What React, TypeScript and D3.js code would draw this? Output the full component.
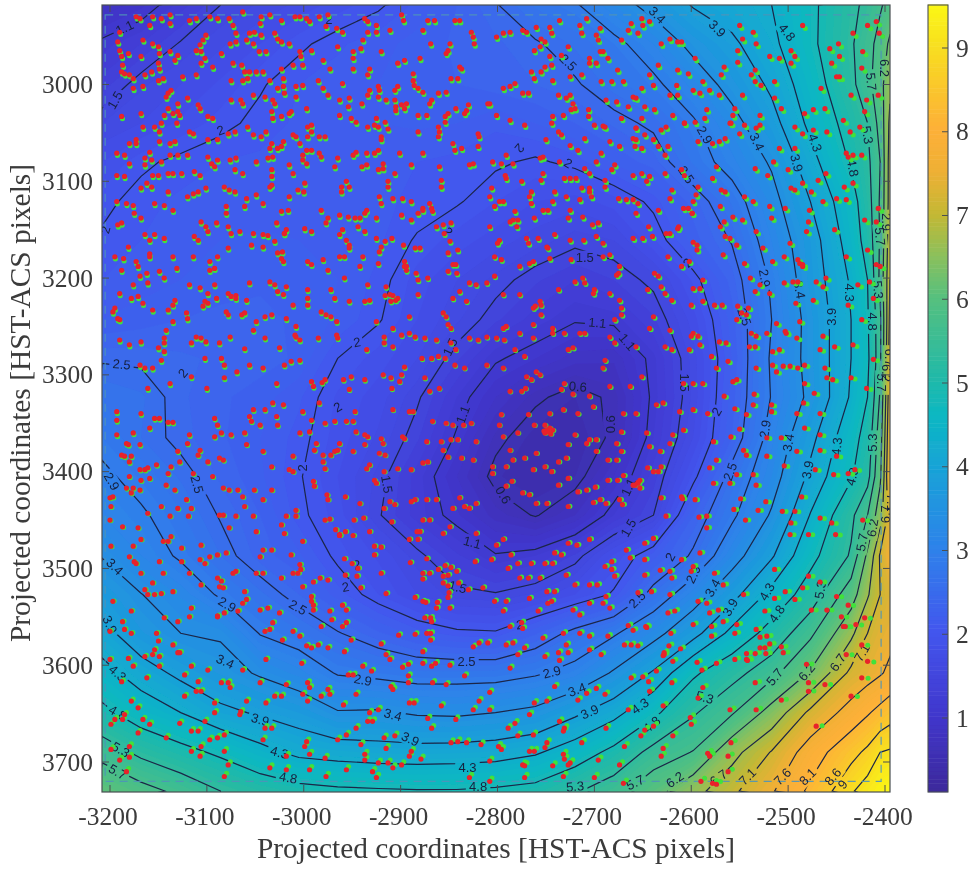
import React from "react";
import * as d3 from "d3";

const gridX = [-3208,-3168,-3127,-3086,-3045,-3005,-2965,-2923,-2883,-2842,-2802,-2761,-2720,-2680,-2639,-2598,-2558,-2517,-2477,-2435,-2418,-2405,-2395];
const gridY = [2918,2958,3000,3040,3080,3121,3161,3202,3243,3283,3323,3365,3405,3445,3487,3527,3567,3608,3649,3690,3730];
const surfaceRows = [
[0.8,0.97,1.25,1.5,1.62,1.73,1.85,1.97,2.13,2.3,2.48,2.72,2.86,3.2,3.55,3.93,4.1,4.3,4.7,5.2,5.4,5.65,5.85],
[1.15,1.3,1.52,1.68,1.8,1.96,2.08,2.16,2.24,2.32,2.38,2.47,2.62,2.8,3.1,3.52,3.82,4.2,4.7,5.25,5.55,5.85,6.3],
[1.35,1.58,1.7,1.82,1.98,2.1,2.15,2.2,2.25,2.3,2.35,2.4,2.47,2.65,2.82,3.15,3.55,3.98,4.55,5.2,5.55,6.0,6.6],
[1.6,1.7,1.82,1.95,2.05,2.12,2.17,2.2,2.22,2.2,2.12,2.2,2.3,2.42,2.55,2.85,3.25,3.75,4.4,5.0,5.3,5.85,6.8],
[1.8,1.96,2.05,2.1,2.12,2.14,2.14,2.12,2.1,2.07,2.03,1.97,2.05,2.22,2.35,2.72,3.05,3.45,4.15,4.85,5.2,5.7,6.9],
[1.95,2.07,2.12,2.15,2.15,2.15,2.14,2.12,2.08,2.02,1.9,1.8,1.75,1.85,2.05,2.35,2.72,3.25,3.9,4.6,5.1,5.75,6.9],
[2.03,2.1,2.16,2.2,2.22,2.2,2.18,2.12,1.98,1.85,1.75,1.65,1.55,1.6,1.88,2.25,2.52,3.1,3.7,4.5,5.0,5.75,7.0],
[2.1,2.15,2.2,2.25,2.28,2.25,2.2,2.07,1.85,1.7,1.57,1.42,1.3,1.4,1.55,1.92,2.35,2.95,3.65,4.35,4.8,5.8,7.1],
[2.2,2.25,2.3,2.33,2.33,2.28,2.18,2.02,1.8,1.62,1.42,1.25,1.12,1.15,1.38,1.75,2.25,2.9,3.55,4.3,4.75,5.6,7.2],
[2.47,2.46,2.42,2.38,2.35,2.28,2.0,1.85,1.7,1.42,1.13,1.0,0.85,0.82,1.17,1.65,2.2,2.95,3.55,4.3,4.7,5.6,7.3],
[2.7,2.62,2.42,2.32,2.25,2.12,1.88,1.75,1.53,1.2,0.9,0.65,0.5,0.65,1.15,1.63,2.25,2.92,3.5,4.35,4.8,5.75,7.4],
[2.8,2.6,2.44,2.32,2.2,2.06,1.85,1.68,1.42,1.07,0.67,0.45,0.42,0.65,1.2,1.7,2.3,3.05,3.78,4.6,5.0,5.95,7.5],
[2.97,2.78,2.58,2.38,2.22,2.02,1.8,1.57,1.25,0.9,0.52,0.4,0.5,0.9,1.35,1.93,2.62,3.2,4.0,4.75,5.15,6.1,7.6],
[3.1,2.95,2.72,2.48,2.3,2.05,1.85,1.52,1.25,1.02,0.75,0.58,0.8,1.2,1.5,2.3,2.82,3.45,4.32,5.2,5.7,6.5,7.3],
[3.38,3.1,2.85,2.6,2.35,2.22,1.95,1.78,1.55,1.32,1.12,1.2,1.42,1.82,2.15,2.55,3.2,3.85,4.65,5.35,6.3,7.15,7.6],
[3.7,3.41,3.18,2.85,2.63,2.4,2.15,1.9,1.7,1.55,1.52,1.62,1.8,2.03,2.62,3.17,3.75,4.43,5.05,5.95,6.65,7.1,7.3],
[4.05,3.62,3.4,3.35,2.88,2.72,2.52,2.32,2.15,2.05,2.03,2.28,2.6,2.85,3.25,3.75,4.42,5.0,5.6,6.6,7.1,7.35,7.45],
[4.45,4.1,3.8,3.58,3.35,3.15,2.87,2.8,2.73,2.73,2.74,2.85,3.03,3.45,3.95,4.72,5.15,5.55,6.25,7.2,7.4,7.55,7.7],
[4.92,4.55,4.3,4.0,3.85,3.7,3.43,3.45,3.35,3.33,3.4,3.5,3.82,4.15,4.7,5.25,5.65,6.4,7.2,7.8,8.05,8.25,8.4],
[5.55,5.2,4.95,4.72,4.43,4.2,4.13,4.08,4.06,4.08,4.12,4.25,4.53,4.93,5.45,5.72,6.55,7.13,7.85,8.45,8.7,9.0,9.05],
[6.1,5.85,5.6,5.3,5.1,4.95,4.88,4.85,4.83,4.83,4.87,4.95,5.25,5.55,6.0,6.55,7.0,7.55,8.2,8.95,9.2,9.4,9.5],
];
const contourLevels = [0.6,1.1,1.5,2,2.5,2.9,3.4,3.9,4.3,4.8,5.3,5.7,6.2,6.7,7.1,7.6,8.1,8.6,9];
const colorValues = [0.12,1,2,3,4,4.6,5,6,6.5,7,7.5,8,8.5,9,9.51];
const colorHexes = ["#3c2a9c","#4136cc","#4356ee","#2e82ea","#17a4d6","#0cb8c2","#20b9aa","#56c07e","#8cc05c","#c4b834","#eeb035","#fdb038","#fac62c","#f8df20","#fbf816"];
const xTicks = [-3200,-3100,-3000,-2900,-2800,-2700,-2600,-2500,-2400];
const yTicks = [3000,3100,3200,3300,3400,3500,3600,3700];
const barTicks = [1,2,3,4,5,6,7,8,9];
const dashedBox = [-3205,2928,-2404,3720];
const shiftX = [-3200,-3000,-2800,-2600,-2400];
const shiftY = [2920,3120,3320,3520,3730];
const shiftDx = [[1,1,1,1.5,3],[.5,.5,1,1.5,3],[.5,.5,.5,1.5,4],[1,1.5,1.5,2.5,5],[2,2,2,3,7]];
const shiftDy = [[2,2,2,2.5,3],[2,2,2,2,2.5],[2,1.5,.5,1,1],[0,-.5,-1,-1,.5],[-3,-3,-3,-3,1]];
const labelData: [string,number,number,number][] = [
["1.1",-3185,2941,-25],["1.5",-3195,3016,-60],["2",-3205,3150,-75],["2",-3086,3047,-20],["2",-2974,2933,0],["2.5",-3188,3289,5],["2",-3125,3298,-50],["2",-2945,3266,-10],["1.5",-2849,3271,-65],["2",-2851,3152,50],
["2.5",-2727,2977,45],["3.4",-2635,2928,45],["3.9",-2573,2942,45],["4.8",-2501,2946,50],["6.2",-2400,2983,90],["5.7",-2414,2997,85],["5.3",-2418,3052,80],
["2.9",-2586,3052,60],["3.4",-2532,3059,65],["4.3",-2472,3060,70],["3.9",-2491,3081,75],["4.8",-2433,3086,80],["2",-2777,3066,130],["2",-2727,3081,30],["2.5",-2605,3093,55],["2",-2604,3184,-45],
["2.9",-2524,3200,80],["3.4",-2488,3212,80],["3.9",-2455,3240,-90],["4.3",-2436,3215,90],["4.8",-2413,3245,90],["1.5",-2710,3179,0],["1.1",-2697,3246,5],["1.1",-2666,3266,50],["0.6",-2717,3312,5],["1.5",-2607,3308,90],["2.5",-2545,3240,70],
["2.9",-2398,3142,90],["5.7",-2405,3157,85],["5.3",-2407,3212,85],["6.7",-2395,3282,90],["6.2",-2398,3298,90],["5.7",-2403,3308,90],
["2",-2965,3333,-30],["1.1",-2836,3341,-70],["2",-3002,3396,-90],["1.5",-2914,3413,80],["2.9",-3198,3410,60],["2.5",-3110,3413,75],["1.1",-2826,3473,15],["2",-2945,3496,-15],["1.5",-2841,3519,15],["2",-2957,3519,-10],
["3.4",-3195,3498,45],["2.9",-3079,3537,30],["2.5",-3006,3540,30],["3.9",-3200,3558,65],["3.4",-3081,3596,25],["2.5",-2832,3596,0],["4.3",-3192,3608,40],["2.9",-2939,3615,10],["3.4",-2908,3651,15],["4.8",-3192,3649,30],["3.9",-3045,3656,15],["3.9",-2890,3676,25],
["4.3",-3025,3690,15],["5.3",-3189,3687,30],["4.3",-2831,3705,0],["5.7",-3192,3710,30],["4.8",-3016,3716,10],["4.8",-2820,3725,0],
["0.6",-2684,3351,-90],["0.6",-2794,3424,60],["2",-2574,3338,-60],["2.9",-2524,3356,-80],["3.4",-2500,3370,-80],["3.9",-2480,3398,-80],["4.3",-2450,3374,-85],["5.3",-2413,3370,-90],["2.5",-2560,3400,-70],["4.8",-2434,3405,-75],["1.1",-2665,3416,-65],["1.5",-2665,3458,-60],
["7.1",-2393,3432,90],["6.7",-2400,3444,-90],["6.2",-2413,3458,-80],["5.7",-2424,3473,-80],["2",-2622,3488,-60],["2.9",-2598,3506,-65],["3.4",-2578,3520,-60],["4.3",-2522,3524,-60],["5.3",-2467,3522,-80],["2.5",-2656,3532,-45],["3.9",-2560,3540,-60],["4.8",-2512,3547,-55],
["2",-2777,3558,-5],["2.9",-2744,3607,-15],["7.1",-2424,3587,-60],["6.7",-2449,3597,-55],["6.2",-2481,3607,-50],["5.7",-2514,3612,-50],["3.4",-2718,3625,-20],["5.3",-2586,3633,15],["3.9",-2705,3648,-25],["4.3",-2653,3642,-35],["4.8",-2641,3661,-40],
["5.3",-2720,3725,-5],["5.7",-2658,3721,-25],["6.2",-2617,3718,-35],["6.7",-2572,3716,-35],["7.1",-2542,3715,-45],["7.6",-2506,3715,-45],["8.1",-2480,3715,-45],["8.6",-2454,3715,-50],["9",-2444,3723,-50],
];
const redNW: [number,number][] = [
[-3173,2930],[-3169,2932],[-3156,2930],[-3147,2932],[-3138,2928],[-3138,2937],[-3159,2939],[-3190,2946],[-3118,2934],[-3111,2932],[-3097,2930],[-3089,2932],[-3077,2932],[-3073,2939],[-3063,2925],[-3044,2930],[-3035,2928],[-3045,2937],[-3023,2934],[-3009,2930],[-3004,2930],[-2997,2932],[-2994,2935],[-2984,2930],[-2975,2928],[-2977,2940],[-2966,2942],[-2960,2946],[-2937,2932],[-2934,2935],[-2925,2939],[-2925,2946],[-2934,2946],[-2911,2944],[-2899,2928],[-2897,2934],[-2872,2934],[-2865,2934],[-2877,2944],[-2844,2934],[-2839,2934],[-2827,2946],[-2825,2951],[-2824,2958],
[-3192,2956],[-3166,2954],[-3156,2958],[-3150,2961],[-3149,2968],[-3190,2965],[-3181,2968],[-3188,2971],[-3168,2971],[-3138,2966],[-3130,2970],[-3133,2975],[-3111,2965],[-3106,2966],[-3101,2949],[-3104,2954],[-3107,2959],[-3085,2968],[-3070,2947],[-3070,2956],[-3076,2958],[-3056,2947],[-3051,2946],[-3059,2954],[-3052,2958],[-3044,2949],[-3030,2947],[-3027,2953],[-3023,2956],[-3015,2958],[-3046,2966],[-3039,2966],[-3004,2966],[-3003,2971],[-2992,2965],[-2980,2975],[-2965,2961],[-2939,2954],[-2949,2966],[-2941,2963],[-2949,2973],[-2920,2966],[-2849,2958],[-2851,2965],[-2853,2968],
[-3187,2980],[-3188,2987],[-3185,2989],[-3180,2990],[-3176,2994],[-3164,2990],[-3157,2987],[-3150,2978],[-3149,2984],[-3150,2996],[-3145,2994],[-3125,2992],[-3111,2990],[-3106,2978],[-3094,2982],[-3102,2973],[-3073,2978],[-3064,2980],[-3061,2987],[-3056,2987],[-3049,2987],[-3042,2987],[-3058,2994],[-3075,2996],[-3063,2996],[-3035,2996],[-3023,2984],[-3021,2994],[-3011,2980],[-3001,2980],[-2985,2996],[-2973,2984],[-2949,2984],[-2932,2984],[-2934,2990],[-2903,2978],[-2896,2975],[-2880,2973],[-2869,2958],[-2839,2982],[-2837,2984],[-2887,2989],[-2848,2994],[-2841,2994],[-2887,2996],
[-3176,3004],[-3166,3002],[-3140,3009],[-3137,3006],[-3142,3013],[-3120,3014],[-3130,3020],[-3109,3021],[-3075,3016],[-3065,3016],[-3063,3020],[-3052,3011],[-3040,3013],[-3032,3016],[-3030,3020],[-3027,3004],[-3021,3002],[-3020,3009],[-3008,3002],[-3008,3013],[-3001,3001],[-2997,3025],[-2980,3004],[-2975,3011],[-2960,2999],[-2963,3016],[-2953,3014],[-2954,3023],[-2940,3020],[-2932,3006],[-2934,3011],[-2923,3002],[-2922,3006],[-2923,3013],[-2915,3016],[-2903,3002],[-2906,3006],[-2906,3016],[-2886,3001],[-2882,3004],[-2877,3008],[-2861,3009],[-2853,3008],[-2868,3016],[-2870,3020],[-2899,3021],[-2894,3020],[-2905,3023],[-2810,3020],[-2830,3021],
[-3188,3033],[-3168,3030],[-3140,3025],[-3144,3032],[-3130,3028],[-3128,3032],[-3135,3030],[-3107,3025],[-3099,3033],[-3094,3035],[-3166,3044],[-3147,3040],[-3154,3044],[-3149,3049],[-3131,3040],[-3118,3049],[-3114,3051],[-3058,3044],[-3033,3028],[-3032,3035],[-3023,3033],[-3015,3030],[-3013,3028],[-2996,3044],[-2992,3042],[-2992,3049],[-2963,3032],[-2951,3035],[-2946,3039],[-2934,3044],[-2925,3035],[-2927,3042],[-2923,3044],[-2913,3046],[-2916,3039],[-2905,3027],[-2896,3025],[-2882,3032],[-2873,3032],[-2851,3030],[-2854,3033],[-2843,3025],[-2832,3027],[-2834,3030],[-2854,3039],[-2861,3044],[-2860,3049],[-2861,3054],[-2882,3049],
[-3180,3061],[-3173,3057],[-3173,3061],[-3149,3059],[-3138,3061],[-3133,3059],[-3159,3070],[-3193,3071],[-3185,3073],[-3099,3057],[-3089,3057],[-3078,3051],[-3071,3049],[-3052,3052],[-3044,3054],[-3039,3049],[-3033,3061],[-3035,3066],[-3021,3059],[-3023,3064],[-3027,3066],[-3011,3052],[-3004,3061],[-3008,3054],[-2996,3054],[-2984,3054],[-2978,3054],[-3001,3073],[-2997,3068],[-2992,3068],[-2984,3071],[-2982,3075],[-2946,3070],[-2949,3073],[-2935,3071],[-2927,3071],[-2923,3068],[-2920,3054],[-2920,3057],[-2846,3061],[-2844,3068],[-2837,3066],[-2820,3051],[-2819,3054],[-2877,3071],[-2820,3064],[-2901,3071],
[-3180,3082],[-3164,3076],[-3164,3083],[-3157,3078],[-3147,3080],[-3138,3073],[-3130,3073],[-3120,3073],[-3156,3094],[-3150,3094],[-3140,3092],[-3135,3092],[-3126,3092],[-3193,3094],[-3185,3095],[-3113,3090],[-3107,3094],[-3099,3075],[-3095,3082],[-3089,3078],[-3092,3085],[-3076,3078],[-3070,3076],[-3071,3088],[-3063,3092],[-3049,3080],[-3037,3076],[-3032,3075],[-3033,3088],[-3033,3095],[-3015,3083],[-3011,3092],[-3001,3078],[-2997,3082],[-2965,3076],[-2968,3085],[-2940,3085],[-2935,3083],[-2923,3088],[-2918,3082],[-2918,3087],[-2906,3092],[-2889,3083],[-2860,3085],[-2829,3083],[-2825,3082],
[-3162,3102],[-3157,3106],[-3168,3107],[-3140,3111],[-3193,3121],[-3183,3123],[-3176,3125],[-3154,3123],[-3144,3125],[-3120,3116],[-3114,3113],[-3109,3111],[-3101,3107],[-3082,3106],[-3077,3109],[-3071,3111],[-3059,3118],[-3049,3114],[-3042,3123],[-3033,3104],[-3035,3106],[-3015,3116],[-3006,3109],[-2999,3102],[-3000,3111],[-2956,3100],[-2961,3106],[-2961,3111],[-2953,3106],[-2913,3100],[-2913,3106],[-2922,3116],[-2920,3123],[-2908,3118],[-2898,3118],[-2889,3121],[-2858,3099],[-2858,3106],[-2870,3123],[-2877,3128],
[-3175,3133],[-3168,3138],[-3192,3145],[-3188,3143],[-3135,3130],[-3080,3126],[-3080,3133],[-3106,3142],[-3101,3147],[-3099,3152],[-3090,3143],[-3078,3147],[-3075,3154],[-3066,3152],[-3052,3154],[-3061,3126],[-3028,3143],[-3018,3150],[-3020,3154],[-3016,3130],[-3023,3131],[-2982,3130],[-2975,3138],[-2977,3143],[-2963,3135],[-2954,3137],[-2947,3138],[-2942,3138],[-2935,3130],[-2937,3133],[-2960,3150],[-2944,3147],[-2937,3152],[-2889,3140],[-2882,3133],[-2877,3130],[-2868,3128],[-2863,3147],[-2856,3145],[-2848,3143],[-2855,3154],[-2867,3131],[-2925,3138],[-2899,3135],
[-3164,3155],[-3159,3161],[-3154,3155],[-3144,3159],[-3113,3157],[-3109,3161],[-3078,3169],[-3054,3166],[-3042,3155],[-3037,3156],[-3042,3168],[-3030,3162],[-3022,3173],[-3020,3154],[-2999,3149],[-2992,3152],[-2963,3155],[-2956,3161],[-2953,3166],[-2953,3169],[-2925,3159],[-2916,3162],[-2920,3168],[-2922,3173],[-2909,3159],[-2897,3166],[-2885,3169],[-2849,3162],[-2841,3171],[-2851,3174],[-2880,3169],[-3181,3168],[-3195,3178],[-3186,3180],[-3159,3175],[-3159,3178],[-3173,3183],[-3171,3188],[-3135,3178],[-3114,3178],[-3097,3183],[-3089,3178],[-3097,3192],[-3092,3190],[-3027,3174],[-3023,3180],[-3021,3183],[-2996,3183],[-2992,3186],[-2980,3181],[-2963,3178],[-2958,3178],[-2939,3178],[-2923,3185],[-2896,3183],[-2894,3188],[-2846,3186],[-2843,3186],
[-3188,3192],[-3162,3195],[-3149,3193],[-3176,3207],[-3169,3198],[-3161,3205],[-3144,3200],[-3131,3190],[-3118,3207],[-3107,3210],[-3092,3207],[-3099,3216],[-3102,3224],[-3090,3221],[-3070,3218],[-3075,3219],[-3078,3216],[-3070,3221],[-3056,3205],[-3035,3204],[-3030,3207],[-3027,3214],[-3018,3209],[-3021,3217],[-2996,3212],[-2996,3221],[-2972,3212],[-2968,3221],[-2975,3192],[-2942,3188],[-2934,3207],[-2915,3209],[-2911,3217],[-2882,3217],[-2958,3200],[-2884,3195],[-2882,3202],[-2872,3200],[-2851,3193],[-2842,3195],[-2839,3214],[-2829,3205],[-2822,3207],[-2811,3205],[-2846,3221],[-2832,3224],[-2896,3188],[-2894,3192],[-2910,3224],[-3190,3216],[-3178,3221],[-3171,3219],
[-3197,3235],[-3192,3242],[-3195,3231],[-3190,3243],[-3166,3226],[-3156,3233],[-3140,3233],[-3135,3228],[-3133,3223],[-3121,3236],[-3120,3242],[-3104,3229],[-3099,3226],[-3080,3235],[-3078,3238],[-3059,3223],[-3061,3236],[-3064,3238],[-3049,3245],[-3052,3254],[-3040,3240],[-3033,3238],[-3018,3242],[-3008,3250],[-2996,3228],[-3011,3228],[-2982,3235],[-2977,3238],[-2972,3240],[-2966,3245],[-2953,3224],[-2937,3224],[-2932,3223],[-2916,3218],[-2925,3245],[-2891,3240],[-2908,3252],[-2891,3257],[-2856,3236],[-2853,3240],[-2851,3248],[-2848,3252],[-3135,3245],[-3142,3254],[-3009,3259],
[-3190,3264],[-3180,3269],[-3168,3266],[-3144,3262],[-3144,3267],[-3150,3272],[-3144,3276],[-3111,3261],[-3116,3267],[-3106,3262],[-3101,3266],[-3087,3267],[-3076,3261],[-3061,3273],[-3040,3262],[-3025,3272],[-3008,3261],[-3004,3264],[-2985,3262],[-2966,3259],[-2965,3262],[-2935,3274],[-2917,3261],[-2917,3267],[-2908,3271],[-2899,3259],[-2885,3261],[-2875,3262],[-2863,3264],[-2848,3267],[-2843,3274],[-2829,3262],[-2820,3264],[-2811,3261],[-3169,3290],[-3156,3293],[-3164,3293],[-3161,3314],[-3147,3285],[-3138,3309],[-3116,3302],[-3102,3283],[-3100,3314],[-3085,3283],[-3082,3290],[-3069,3297],[-3082,3303],[-3056,3290],[-3042,3293],[-3020,3290],[-3013,3286],[-3004,3285],[-3028,3309],[-2992,3307],[-2990,3312],[-2959,3305],[-2951,3302],[-2937,3305],[-2953,3315],[-2918,3300],[-2899,3300],[-2901,3307],[-2868,3283],[-2861,3281],[-2854,3283],[-2844,3290],[-2834,3293],[-2875,3303],[-2870,3317],[-2860,3314],[-2811,3290],[-2878,3283],[-2896,3292],[-2909,3314],[-2910,3303],
];
const redNE: [number,number][] = [
[-2736,2934],[-2760,2941],[-2774,2944],[-2770,2946],[-2746,2941],[-2744,2947],[-2715,2939],[-2708,2932],[-2713,2947],[-2694,2942],[-2698,2949],[-2696,2954],[-2787,2946],[-2794,2947],[-2801,2951],[-2755,2953],[-2751,2956],[-2756,2961],[-2762,2965],[-2691,2966],[-2686,2973],[-2694,2966],[-2705,2973],[-2698,2978],[-2705,2978],[-2734,2970],[-2727,2961],[-2746,2971],[-2676,2985],[-2751,2982],[-2744,2980],[-2755,2987],[-2765,2987],[-2762,2994],[-2743,2996],[-2725,2992],[-2713,2990],[-2693,2997],[-2682,2997],[-2670,2997],[-2662,2937],[-2651,2932],[-2650,2939],[-2643,2935],[-2665,2944],[-2655,2947],[-2672,2954],[-2631,2958],[-2622,2953],[-2614,2956],[-2610,2956],[-2596,2973],[-2634,2980],[-2614,2985],[-2603,2989],[-2643,2990],[-2639,3001],[-2651,3004],
[-2782,2999],[-2787,3002],[-2794,3004],[-2768,3009],[-2774,3009],[-2737,3011],[-2725,3011],[-2729,3014],[-2722,3020],[-2724,3026],[-2720,3025],[-2808,3020],[-2801,3032],[-2787,3037],[-2772,3042],[-2706,3026],[-2706,3033],[-2700,3042],[-2743,3033],[-2744,3040],[-2732,3032],[-2689,3044],[-2691,3043],[-2672,3035],[-2688,3016],[-2677,3018],[-2660,3013],[-2657,3014],[-2665,3023],[-2648,3023],[-2638,3026],[-2651,3035],[-2657,3045],[-2619,3032],[-2607,3040],[-2598,3006],[-2591,3009],[-2581,3006],[-2571,3011],[-2622,3011],[-2614,3011],[-2615,3001],[-2588,2997],[-2566,2982],[-2569,2990],[-2552,2977],[-2552,2965],[-2547,2953],[-2550,2939],[-2536,2946],[-2533,2958],[-2519,2971],[-2509,2973],[-2497,2965],[-2493,2971],[-2497,2978],[-2534,2985],[-2538,2990],[-2534,2997],[-2528,3001],[-2514,2997],[-2514,3014],[-2547,3011],[-2485,2939],[-2457,2963],[-2448,2958],[-2447,2971],[-2455,2978],[-2450,2992],[-2447,2992],[-2466,3004],[-2435,3011],[-2419,3016],[-2407,3011],[-2418,2939],[-2409,2935],[-2406,2947],[-2433,2947],[-2423,2966],[-2424,2983],[-2421,3028],[-2483,3030],[-2474,3026],[-2462,3025],[-2507,3025],[-2493,3044],[-2485,3051],[-2474,3047],[-2460,3049],[-2443,3037],[-2436,3049],[-2426,3044],[-2440,3071],[-2433,3073],[-2424,3073],
[-2555,3025],[-2557,3032],[-2560,3040],[-2559,3040],[-2545,3042],[-2529,3032],[-2529,3042],[-2533,3045],[-2550,3051],[-2565,3056],[-2571,3059],[-2578,3061],[-2593,3059],[-2607,3040],[-2596,3039],[-2584,3026],[-2586,3035],[-2626,3044],[-2631,3047],[-2737,3049],[-2734,3052],[-2750,3057],[-2725,3063],[-2710,3056],[-2693,3071],[-2684,3059],[-2674,3064],[-2657,3045],[-2648,3052],[-2639,3057],[-2634,3064],[-2627,3073],[-2624,3064],[-2660,3056],[-2658,3064],[-2651,3066],[-2657,3057],[-2791,3073],[-2805,3080],[-2796,3082],[-2784,3082],[-2756,3076],[-2753,3075],[-2736,3080],[-2717,3068],[-2698,3080],[-2679,3083],[-2682,3088],[-2710,3087],[-2705,3092],[-2660,3094],[-2651,3092],[-2646,3100],[-2643,3095],[-2627,3092],[-2610,3088],[-2607,3094],[-2574,3085],[-2578,3097],[-2593,3106],[-2569,3109],[-2565,3111],[-2545,3116],[-2534,3087],[-2521,3094],[-2509,3066],[-2515,3080],[-2493,3066],[-2500,3088],[-2485,3102],[-2497,3107],[-2493,3109],[-2476,3111],[-2469,3099],[-2461,3092],[-2450,3118],[-2440,3119],[-2442,3106],[-2433,3102],[-2438,3075],[-2464,3121],
[-2753,3092],[-2755,3099],[-2775,3100],[-2792,3094],[-2791,3097],[-2731,3097],[-2725,3097],[-2719,3097],[-2713,3107],[-2705,3107],[-2689,3099],[-2689,3106],[-2808,3116],[-2798,3121],[-2794,3121],[-2803,3126],[-2806,3107],[-2765,3111],[-2767,3116],[-2765,3123],[-2741,3111],[-2743,3121],[-2729,3116],[-2715,3119],[-2703,3116],[-2705,3111],[-2675,3118],[-2667,3119],[-2660,3119],[-2655,3123],[-2620,3109],[-2622,3118],[-2595,3114],[-2598,3121],[-2603,3128],[-2599,3133],[-2599,3133],[-2608,3128],[-2634,3130],[-2570,3126],[-2753,3130],[-2748,3130],[-2725,3130],[-2727,3138],[-2782,3131],[-2784,3140],[-2779,3140],[-2780,3147],[-2787,3142],[-2762,3138],[-2712,3137],[-2702,3145],[-2696,3143],[-2657,3133],[-2644,3147],[-2613,3147],[-2570,3147],[-2566,3142],[-2557,3137],[-2547,3140],[-2536,3121],[-2519,3126],[-2517,3138],[-2503,3128],[-2478,3130],[-2479,3142],[-2481,3152],[-2452,3150],[-2421,3140],[-2409,3142],[-2407,3128],[-2560,3159],[-2565,3157],[-2553,3166],[-2533,3152],[-2526,3169],[-2498,3164],[-2808,3147],[-2798,3161],[-2800,3164],[-2770,3159],[-2768,3164],[-2758,3159],[-2741,3155],[-2725,3161],[-2711,3161],[-2698,3157],[-2691,3164],[-2660,3159],[-2650,3159],[-2640,3157],[-2626,3154],[-2622,3154],[-2598,3163],[-2594,3166],[-2594,3171],[-2614,3149],[-2567,3176],[-2545,3185],[-2516,3183],[-2504,3178],[-2490,3181],[-2485,3186],[-2440,3178],[-2418,3171],[-2409,3186],[-2405,3188],
[-2803,3178],[-2796,3181],[-2777,3188],[-2767,3185],[-2763,3183],[-2746,3180],[-2748,3169],[-2749,3168],[-2724,3181],[-2691,3178],[-2684,3176],[-2674,3188],[-2624,3178],[-2610,3188],[-2602,3183],[-2803,3198],[-2794,3217],[-2777,3217],[-2761,3229],[-2756,3224],[-2763,3231],[-2755,3238],[-2763,3248],[-2755,3228],[-2737,3212],[-2720,3204],[-2710,3205],[-2712,3200],[-2700,3212],[-2701,3216],[-2677,3197],[-2675,3195],[-2684,3216],[-2674,3223],[-2672,3231],[-2672,3238],[-2679,3243],[-2638,3195],[-2634,3198],[-2631,3209],[-2645,3212],[-2627,3216],[-2620,3223],[-2588,3202],[-2588,3224],[-2591,3211],[-2598,3211],[-2600,3228],[-2576,3228],[-2568,3228],[-2539,3200],[-2529,3207],[-2534,3214],[-2519,3216],[-2552,3229],[-2541,3231],[-2548,3236],[-2553,3243],[-2543,3238],[-2504,3205],[-2495,3204],[-2490,3204],[-2488,3185],[-2485,3188],[-2471,3204],[-2464,3209],[-2461,3200],[-2492,3226],[-2474,3223],[-2428,3207],[-2416,3204],[-2412,3221],[-2438,3228],[-2512,3247],[-2503,3255],[-2502,3257],[-2488,3245],[-2491,3262],[-2464,3260],[-2467,3274],[-2452,3271],[-2433,3269],[-2424,3243],[-2412,3284],[-2538,3257],[-2533,3260],[-2522,3257],[-2540,3271],[-2534,3271],[-2571,3266],[-2564,3267],[-2562,3286],[-2574,3293],[-2579,3281],[-2553,3305],[-2557,3307],[-2533,3293],[-2516,3276],[-2509,3274],[-2516,3290],[-2512,3297],[-2505,3291],[-2498,3291],[-2490,3293],[-2483,3290],[-2483,3309],[-2473,3319],[-2462,3293],[-2460,3303],[-2454,3305],[-2435,3303],[-2419,3314],
[-2791,3250],[-2794,3252],[-2801,3262],[-2777,3257],[-2793,3264],[-2763,3262],[-2743,3252],[-2743,3257],[-2731,3257],[-2715,3257],[-2782,3274],[-2772,3281],[-2727,3274],[-2722,3272],[-2710,3257],[-2684,3261],[-2679,3267],[-2657,3271],[-2643,3252],[-2639,3240],[-2622,3254],[-2627,3271],[-2620,3274],[-2598,3257],[-2593,3260],[-2602,3274],[-2591,3269],[-2600,3260],[-2689,3285],[-2691,3293],[-2760,3297],[-2756,3300],[-2770,3302],[-2765,3305],[-2731,3309],[-2734,3315],[-2722,3320],[-2787,3317],[-2775,3317],[-2771,3314],[-2794,3293],[-2684,3312],[-2663,3312],[-2705,3322],[-2651,3302],[-2608,3309],[-2598,3309],[-2588,3309],[-2566,3322],[-2535,3320],
];
const redSW: [number,number][] = [
[-3193,3338],[-3193,3347],[-3168,3340],[-3154,3345],[-3149,3345],[-3140,3349],[-3135,3349],[-3193,3362],[-3176,3360],[-3159,3355],[-3183,3371],[-3181,3372],[-3169,3372],[-3188,3383],[-3185,3384],[-3178,3384],[-3180,3390],[-3152,3393],[-3169,3398],[-3164,3398],[-3161,3396],[-3180,3405],[-3168,3409],[-3159,3407],[-3137,3395],[-3140,3402],[-3142,3414],[-3176,3417],[-3183,3417],[-3169,3419],[-3178,3422],[-3200,3427],[-3197,3426],[-3199,3436],[-3200,3450],[-3161,3443],[-3147,3436],[-3138,3446],[-3130,3438],[-3119,3446],[-3116,3438],[-3121,3429],[-3133,3419],[-3130,3379],[-3128,3390],[-3118,3362],[-3120,3371],[-3107,3378],[-3109,3383],[-3099,3390],[-3087,3386],[-3083,3388],[-3114,3402],[-3094,3405],[-3092,3345],[-3089,3352],[-3085,3360],[-3092,3364],[-3075,3362],[-3061,3360],[-3059,3372],[-3042,3379],[-3033,3395],[-3015,3398],[-3011,3384],[-3011,3400],[-3056,3343],[-3052,3336],[-3054,3348],[-3040,3336],[-3045,3352],[-3028,3343],[-3027,3352],[-3032,3329],[-3021,3331],[-3001,3338],[-2992,3347],[-3004,3360],[-2994,3359],[-2984,3329],[-2978,3350],[-2968,3348],[-2956,3348],[-2947,3338],[-2946,3359],[-2949,3348],[-2937,3362],[-2934,3364],[-2920,3366],[-2918,3371],[-2922,3381],[-2916,3383],[-2987,3371],[-2989,3378],[-2980,3383],[-2972,3383],[-2965,3378],[-2968,3379],[-2963,3371],[-2949,3379],[-2980,3390],[-2937,3372],[-2932,3393],[-2935,3397],[-2978,3397],[-2990,3410],[-2989,3415],[-2976,3424],[-2975,3429],[-2957,3426],[-2942,3433],[-2917,3400],[-2903,3397],[-2889,3398],[-2873,3369],[-2853,3350],[-2846,3352],[-2835,3352],[-2827,3350],[-2822,3369],[-2841,3367],[-2858,3369],[-2848,3367],[-2851,3385],[-2856,3378],[-2837,3386],[-2872,3390],[-2877,3391],[-2825,3388],[-2891,3338],[-2887,3338],[-2867,3348],[-2898,3364],[-2896,3366],[-2908,3336],[-2927,3409],[-2925,3412],[-2906,3434],[-2917,3438],[-2911,3431],[-2885,3429],[-2889,3431],[-2873,3429],[-2863,3429],[-2839,3427],[-2834,3436],[-2829,3438],[-2822,3433],[-2846,3438],[-2849,3457],[-2822,3464],[-2883,3462],[-2880,3462],[-2891,3470],[-2882,3470],[-2856,3464],[-2877,3450],[-2870,3450],[-2909,3452],[-2938,3448],[-2948,3450],[-2973,3449],[-2978,3450],[-2963,3466],[-2949,3466],[-2963,3465],
[-2963,3466],[-2967,3460],[-2957,3462],[-2927,3477],[-2920,3478],[-2927,3486],[-2932,3462],[-2873,3490],[-2854,3497],[-2890,3494],[-2870,3505],[-2861,3501],[-2823,3493],[-2848,3499],[-2842,3503],[-2877,3505],[-2877,3511],[-2851,3507],[-2856,3515],[-2856,3508],[-2851,3518],[-2840,3515],[-2851,3530],[-2850,3525],[-2815,3520],[-2849,3541],[-2863,3541],[-2830,3522],[-2862,3535],[-2874,3535],[-2885,3530],[-2877,3534],[-2875,3551],[-2869,3551],[-2868,3555],[-2869,3567],[-2873,3567],[-2885,3568],[-2877,3586],[-2869,3574],[-2911,3594],[-2898,3602],[-2868,3601],[-2864,3598],[-2902,3569],[-2920,3578],[-2941,3520],[-2920,3505],[-2915,3526],[-2945,3508],[-2957,3507],[-2958,3490],[-2944,3500],[-2950,3495],[-2983,3510],[-2975,3512],[-2990,3514],[-3001,3519],[-3006,3505],[-3011,3505],[-3004,3496],[-3023,3510],[-3042,3505],[-3049,3505],[-3070,3503],[-3073,3505],[-3089,3510],[-3085,3513],[-3087,3519],[-3083,3520],[-3061,3524],[-3059,3532],[-3063,3536],[-3068,3544],[-3082,3546],[-3089,3549],[-3089,3550],[-3045,3543],[-3037,3541],[-3025,3546],[-3032,3556],[-3040,3565],[-3035,3563],[-3011,3565],[-3004,3570],[-2992,3534],[-2990,3538],[-2992,3529],[-2990,3543],[-2973,3544],[-2971,3553],[-2982,3560],[-2960,3538],[-2956,3543],[-2960,3560],[-2956,3556],[-2951,3574],[-2975,3582],[-2997,3580],[-2992,3582],[-2985,3579],[-3022,3574],[-3039,3594],[-3002,3598],[-2958,3586],[-2915,3589],[-2892,3599],[-2877,3598],[-2849,3600],[-2834,3611],[-2825,3581],[-2819,3577],[-2810,3577],[-2808,3628],[-2867,3618],[-2853,3620],[-2892,3611],[-2892,3618],[-2891,3639],[-2886,3639],[-2910,3622],[-2908,3625],[-2930,3606],[-2939,3601],[-2949,3610],[-2954,3610],[-2946,3630],[-2975,3625],[-2973,3630],[-2996,3618],[-2994,3623],[-3001,3630],[-2996,3637],[-2982,3632],[-2959,3641],
[-3045,3618],[-3063,3605],[-3018,3620],[-3030,3632],[-3023,3632],[-3059,3637],[-3039,3639],[-3065,3648],[-3066,3651],[-3040,3665],[-3033,3665],[-3042,3677],[-3078,3618],[-3085,3618],[-3076,3623],[-3109,3617],[-3111,3627],[-3106,3627],[-3123,3632],[-3116,3601],[-3123,3610],[-3099,3605],[-3149,3601],[-3152,3567],[-3150,3575],[-3154,3584],[-3156,3589],[-3164,3591],[-3149,3591],[-3135,3579],[-3128,3587],[-3130,3587],[-3181,3593],[-3176,3601],[-3200,3594],[-3188,3617],[-3162,3613],[-3178,3637],[-3185,3651],[-3171,3644],[-3187,3656],[-3195,3656],[-3199,3661],[-3166,3656],[-3159,3661],[-3128,3660],[-3116,3668],[-3109,3668],[-3092,3649],[-3092,3639],[-3102,3658],[-3142,3675],[-3171,3670],[-3180,3684],[-3199,3687],[-3180,3695],[-3190,3698],[-3183,3710],[-3116,3689],[-3107,3694],[-3106,3684],[-3097,3677],[-3089,3675],[-3082,3672],[-3082,3689],[-3078,3703],[-3082,3715],[-3035,3706],[-3018,3708],[-3018,3694],[-2994,3708],[-2978,3696],[-2977,3715],[-2997,3679],[-2999,3684],[-2994,3692],[-2965,3677],[-2956,3708],[-2946,3665],[-2956,3672],[-2941,3682],[-2937,3692],[-2937,3698],[-2929,3710],[-2925,3716],[-2932,3649],[-2934,3658],[-2929,3658],[-2923,3646],[-2917,3675],[-2906,3673],[-2915,3686],[-2923,3701],[-2913,3701],[-2908,3706],[-2899,3703],[-2889,3689],[-2891,3694],[-2879,3697],[-2868,3665],[-2848,3680],[-2841,3679],[-2832,3680],[-2843,3656],[-2829,3716],[-2817,3682],[-2819,3637],[-2825,3646],[-2808,3646],[-2872,3655],[-2858,3642],
[-3187,3457],[-3199,3477],[-3171,3458],[-3176,3477],[-3168,3470],[-3180,3488],[-3173,3495],[-3175,3493],[-3149,3493],[-3168,3505],[-3145,3505],[-3156,3515],[-3154,3527],[-3147,3526],[-3164,3522],[-3161,3527],[-3135,3524],[-3197,3534],[-3178,3544],[-3187,3555],[-3178,3567],[-3185,3563],[-3200,3565],[-3144,3551],[-3130,3555],[-3116,3541],[-3118,3550],[-3126,3479],[-3106,3476],[-3097,3488],[-3089,3486],[-3080,3484],[-3102,3495],[-3118,3505],[-3106,3517],[-3083,3445],[-3087,3445],[-3077,3458],[-3070,3446],[-3061,3436],[-3052,3446],[-3049,3462],[-3083,3417],[-3077,3419],[-3068,3419],[-3063,3426],[-3051,3419],[-3033,3419],[-3042,3429],[-3023,3455],[-3018,3446],[-3008,3440],[-3008,3446],[-3020,3464],[-3042,3481],[-3033,3481],[-3045,3488],[-3013,3486],[-3001,3472],[-3003,3501],[-3145,3472],[-3140,3472],[-3137,3467],[-3126,3493],[-3107,3491],
];
const redSE: [number,number][] = [
[-2796,3341],[-2768,3341],[-2746,3340],[-2732,3336],[-2717,3340],[-2701,3333],[-2670,3340],[-2657,3340],[-2636,3331],[-2629,3329],[-2612,3338],[-2598,3336],[-2583,3340],[-2536,3331],[-2517,3331],[-2491,3340],[-2484,3329],[-2467,3340],[-2543,3341],[-2517,3338],[-2798,3352],[-2779,3360],[-2762,3352],[-2748,3359],[-2751,3360],[-2743,3357],[-2794,3364],[-2787,3378],[-2760,3381],[-2772,3386],[-2784,3388],[-2791,3395],[-2805,3395],[-2805,3402],[-2763,3398],[-2751,3395],[-2744,3400],[-2737,3390],[-2729,3386],[-2720,3362],[-2727,3372],[-2708,3371],[-2705,3367],[-2698,3367],[-2698,3379],[-2686,3388],[-2677,3371],[-2672,3359],[-2677,3388],[-2672,3379],[-2646,3360],[-2619,3362],[-2608,3357],[-2622,3371],[-2632,3379],[-2643,3374],[-2577,3369],[-2559,3364],[-2546,3378],[-2543,3383],[-2574,3388],[-2581,3396],[-2645,3396],[-2639,3400],[-2631,3395],[-2634,3400],[-2560,3412],[-2553,3403],[-2536,3403],[-2533,3414],[-2577,3412],[-2522,3384],[-2504,3394],[-2467,3378],[-2450,3384],[-2522,3365],[-2507,3365],[-2491,3379],[-2472,3398],[-2453,3403],[-2438,3402],[-2431,3398],[-2467,3362],[-2483,3355],
[-2791,3415],[-2785,3410],[-2774,3422],[-2767,3424],[-2760,3433],[-2749,3433],[-2737,3414],[-2727,3407],[-2708,3419],[-2701,3432],[-2717,3421],[-2727,3436],[-2694,3429],[-2688,3433],[-2686,3409],[-2676,3409],[-2699,3416],[-2671,3434],[-2674,3429],[-2655,3412],[-2653,3417],[-2670,3404],[-2660,3414],[-2631,3427],[-2610,3426],[-2609,3428],[-2596,3429],[-2584,3446],[-2626,3446],[-2592,3447],[-2584,3458],[-2544,3450],[-2556,3439],[-2549,3428],[-2531,3440],[-2523,3431],[-2506,3441],[-2493,3441],[-2486,3426],[-2467,3448],[-2455,3453],[-2497,3453],[-2479,3465],[-2423,3450],[-2451,3465],[-2498,3465],
[-2794,3470],[-2801,3476],[-2786,3486],[-2806,3491],[-2779,3495],[-2765,3495],[-2789,3500],[-2777,3510],[-2756,3510],[-2768,3510],[-2751,3495],[-2743,3495],[-2741,3484],[-2734,3486],[-2727,3474],[-2718,3476],[-2705,3470],[-2682,3493],[-2689,3498],[-2682,3501],[-2667,3481],[-2663,3489],[-2648,3491],[-2648,3474],[-2639,3469],[-2632,3502],[-2622,3503],[-2620,3510],[-2610,3491],[-2591,3484],[-2598,3498],[-2600,3503],[-2576,3505],[-2567,3517],[-2584,3536],[-2572,3543],[-2581,3546],[-2593,3534],[-2546,3527],[-2514,3501],[-2503,3524],[-2514,3531],[-2493,3532],[-2485,3520],[-2467,3514],[-2476,3543],[-2460,3543],[-2450,3529],[-2438,3538],[-2445,3550],[-2430,3558],[-2443,3560],[-2421,3551],[-2479,3508],[-2729,3507],[-2720,3517],[-2705,3517],[-2697,3517],[-2679,3508],[-2749,3524],[-2741,3524],[-2767,3531],[-2803,3534],[-2791,3534],[-2794,3544],[-2758,3544],[-2748,3536],[-2744,3534],[-2722,3543],[-2715,3548],[-2705,3536],[-2691,3536],[-2688,3529],[-2684,3541],[-2648,3507],[-2641,3524],[-2655,3525],[-2622,3527],[-2624,3546],[-2617,3544],
[-2598,3558],[-2579,3560],[-2579,3570],[-2567,3555],[-2553,3558],[-2555,3567],[-2533,3563],[-2524,3544],[-2522,3570],[-2529,3571],[-2507,3581],[-2505,3587],[-2524,3582],[-2529,3582],[-2543,3588],[-2543,3594],[-2519,3578],[-2523,3588],[-2534,3588],[-2542,3595],[-2555,3594],[-2574,3598],[-2594,3597],[-2589,3605],[-2611,3583],[-2619,3596],[-2623,3580],[-2628,3587],[-2655,3580],[-2646,3561],[-2660,3564],[-2621,3567],[-2628,3589],[-2629,3590],[-2787,3560],[-2774,3562],[-2775,3556],[-2784,3577],[-2791,3579],[-2772,3582],[-2753,3572],[-2732,3567],[-2715,3567],[-2705,3570],[-2686,3570],[-2662,3579],[-2669,3579],[-2647,3560],[-2665,3559],[-2729,3579],[-2737,3587],[-2736,3595],[-2727,3587],[-2751,3591],[-2779,3589],[-2787,3603],[-2705,3584],[-2693,3589],[-2741,3622],[-2762,3639],[-2749,3637],[-2717,3636],[-2708,3629],[-2698,3624],[-2689,3630],[-2662,3613],[-2650,3612],[-2644,3617],[-2636,3606],[-2620,3618],[-2643,3627],[-2665,3646],[-2629,3642],[-2588,3623],[-2593,3634],[-2560,3646],[-2533,3646],[-2534,3618],[-2507,3636],[-2481,3599],[-2479,3618],[-2479,3627],[-2462,3620],[-2440,3589],[-2424,3579],[-2418,3596],[-2424,3613],[-2435,3632],[-2471,3663],[-2441,3560],[-2601,3654],[-2600,3661],[-2767,3651],[-2736,3658],[-2782,3660],[-2789,3665],[-2732,3668],[-2731,3665],[-2688,3665],[-2648,3667],[-2639,3663],[-2652,3673],[-2619,3673],[-2713,3680],[-2763,3672],[-2779,3673],[-2799,3684],[-2796,3687],[-2767,3689],[-2762,3689],[-2749,3680],[-2751,3685],[-2808,3699],[-2774,3703],[-2772,3704],[-2732,3692],[-2731,3697],[-2725,3701],[-2727,3703],[-2743,3704],[-2696,3698],[-2669,3684],[-2629,3686],[-2631,3694],[-2583,3691],[-2581,3694],[-2559,3680],[-2562,3694],[-2674,3703],[-2772,3716],[-2732,3715],[-2700,3716],[-2670,3722],[-2590,3720],[-2578,3722],[-2574,3723],[-2562,3710],[-2808,3720],[-2555,3335],[-2550,3356],
[-2749,3357],[-2745,3361],[-2752,3358],[-2746,3355],[-2751,3352],[-2655,3411],[-2658,3414],[-2653,3409],[-2905,3223],[-2908,3218],[-2903,3221],[-2981,3308],[-2978,3305],
];
const allRed = [...redNW,...redNE,...redSW,...redSE];

const W = 969, H = 869;
const PL = 102, PR = 890, PT = 5, PB = 792;
const xS = d3.scaleLinear().domain([-3200,-2400]).range([110,885]);
const yS = d3.scaleLinear().domain([3000,3700]).range([84.5,762]);
const barS = d3.scaleLinear().domain([1,9]).range([718,48]);
const color = d3.scaleLinear<string>().domain(colorValues).range(colorHexes).interpolate(d3.interpolateRgb).clamp(true);
const serif = "'Liberation Serif','Times New Roman',serif";
const inkText = "#3a3a3a", axisInk = "#4a4f52";

function makePath() {
  const nx = gridX.length, ny = gridY.length;
  const ix = d3.scaleLinear().domain([0, ...d3.range(nx).map(i => i + .5), nx]).range([xS(gridX[0]) - 5, ...gridX.map(v => xS(v)), xS(gridX[nx-1]) + 5]);
  const iy = d3.scaleLinear().domain([0, ...d3.range(ny).map(i => i + .5), ny]).range([yS(gridY[0]) - 5, ...gridY.map(v => yS(v)), yS(gridY[ny-1]) + 5]);
  return d3.geoPath(d3.geoTransform({ point(x: number, y: number) { (this as any).stream.point(ix(x), iy(y)); } }));
}
function shiftAt(tbl: number[][], x: number, y: number) {
  const fx = d3.scaleLinear().domain(shiftX).range([0,1,2,3,4]).clamp(true)(x);
  const fy = d3.scaleLinear().domain(shiftY).range([0,1,2,3,4]).clamp(true)(y);
  const i = Math.min(3, Math.floor(fx)), j = Math.min(3, Math.floor(fy));
  const a = fx - i, b = fy - j;
  return (tbl[j][i]*(1-a)+tbl[j][i+1]*a)*(1-b)+(tbl[j+1][i]*(1-a)+tbl[j+1][i+1]*a)*b;
}

export default function App() {
  const flat = surfaceRows.flat();
  const gen = d3.contours().size([gridX.length, gridY.length]);
  const path = makePath();
  const fillLevels = d3.range(0.1, 9.6, 0.1);
  const fills = gen.thresholds(fillLevels)(flat);
  const lines = gen.thresholds(contourLevels)(flat);
  const barSteps = d3.range(0.12, 9.51, 0.05);
  return (
    <svg width={W} height={H} viewBox={`0 0 ${W} ${H}`} style={{ position: "absolute", left: 0, top: 0, background: "#fff" }}>
      <defs>
        <clipPath id="plot"><rect x={PL} y={PT} width={PR-PL} height={PB-PT} /></clipPath>
        <filter id="soft" x="0" y="0" width={W} height={H} filterUnits="userSpaceOnUse"><feGaussianBlur stdDeviation="0.6" /></filter>
        <mask id="gaps" maskUnits="userSpaceOnUse" x="0" y="0" width={W} height={H}>
          <rect width={W} height={H} fill="#fff" />
          {labelData.map((l,i) => {
            const w = l[0].length * 6.5 + 5;
            return <rect key={i} x={-w/2} y={-7} width={w} height={14} fill="#000" transform={`translate(${xS(l[1])},${yS(l[2])}) rotate(${l[3]})`} />;
          })}
        </mask>
      </defs>
      <g filter="url(#soft)">
        <g clipPath="url(#plot)">
          <rect x={PL} y={PT} width={PR-PL} height={PB-PT} fill={color(0.12)} />
          {fills.map((c,i) => <path key={i} d={path(c as any) || ""} fill={color(c.value + 0.05)} />)}
          <g mask="url(#gaps)">
            {lines.map((c,i) => <path key={i} d={path(c as any) || ""} fill="none" stroke="#1b2547" strokeWidth={1.2} />)}
          </g>
          <rect x={xS(dashedBox[0])} y={yS(dashedBox[1])} width={xS(dashedBox[2])-xS(dashedBox[0])} height={yS(dashedBox[3])-yS(dashedBox[1])} fill="none" stroke="#4f93b8" strokeOpacity={0.9} strokeWidth={1.2} strokeDasharray="8 6" />
          {labelData.map((l,i) => (
            <text key={i} transform={`translate(${xS(l[1])},${yS(l[2])}) rotate(${l[3]})`} textAnchor="middle" dy="0.36em" fontFamily="'Liberation Sans',Arial,sans-serif" fontSize={13} fill="#16203f">{l[0]}</text>
          ))}
          {allRed.map((p,i) => <circle key={i} cx={xS(p[0]) + shiftAt(shiftDx,p[0],p[1]) * 1.15} cy={yS(p[1]) + shiftAt(shiftDy,p[0],p[1]) * 1.15} r={2.5} fill="#3fe23a" />)}
          {allRed.map((p,i) => <circle key={i} cx={xS(p[0])} cy={yS(p[1])} r={2.6} fill="#e8222a" />)}
        </g>
        <rect x={PL} y={PT} width={PR-PL} height={PB-PT} fill="none" stroke={axisInk} strokeWidth={1.2} />
        {xTicks.map(t => (
          <g key={t}>
            <line x1={xS(t)} x2={xS(t)} y1={PB} y2={PB-7} stroke={axisInk} />
            <line x1={xS(t)} x2={xS(t)} y1={PT} y2={PT+7} stroke={axisInk} />
            <text x={xS(t)-2} y={825} textAnchor="middle" fontFamily={serif} fontSize={25.5} fill={inkText}>{t}</text>
          </g>
        ))}
        {yTicks.map(t => (
          <g key={t}>
            <line x1={PL} x2={PL+7} y1={yS(t)} y2={yS(t)} stroke={axisInk} />
            <line x1={PR} x2={PR-7} y1={yS(t)} y2={yS(t)} stroke={axisInk} />
            <text x={93} y={yS(t)+8.5} textAnchor="end" fontFamily={serif} fontSize={25.5} fill={inkText}>{t}</text>
          </g>
        ))}
        <text x={496} y={858} textAnchor="middle" fontFamily={serif} fontSize={29.4} fill={inkText}>Projected coordinates [HST-ACS pixels]</text>
        <text transform="translate(30,403) rotate(-90)" textAnchor="middle" fontFamily={serif} fontSize={29.4} fill={inkText}>Projected coordinates [HST-ACS pixels]</text>
        {barSteps.map((v,i) => <rect key={i} x={928} y={barS(v+0.05)} width={20} height={barS(v)-barS(v+0.05)+0.5} fill={color(v)} />)}
        <rect x={928} y={5} width={20} height={787} fill="none" stroke={axisInk} strokeWidth={1.1} />
        {barTicks.map(t => (
          <g key={t}>
            <line x1={942} x2={948} y1={barS(t)} y2={barS(t)} stroke={axisInk} />
            <text x={956} y={barS(t)+8.5} fontFamily={serif} fontSize={25.5} fill={inkText}>{t}</text>
          </g>
        ))}
      </g>
    </svg>
  );
}
